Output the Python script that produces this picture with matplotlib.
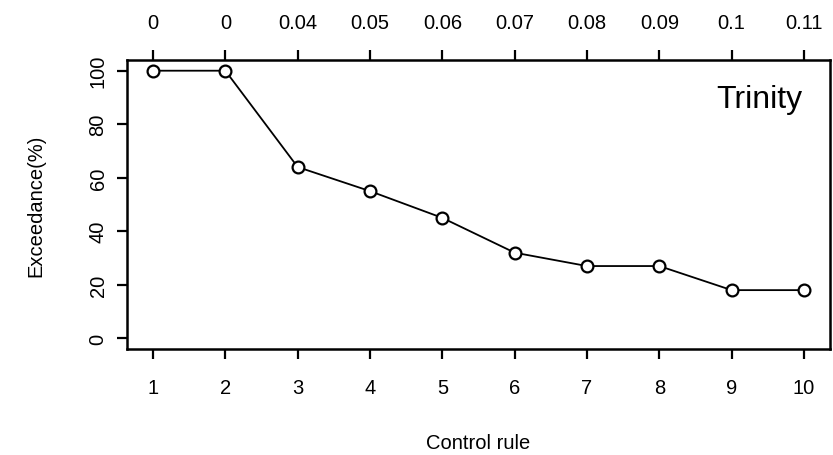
import matplotlib.pyplot as plt

plt.rcParams["font.family"] = ["Liberation Sans", "DejaVu Sans"]

control_rule = [1, 2, 3, 4, 5, 6, 7, 8, 9, 10]
exceedance = [100, 100, 64, 55, 45, 32, 27, 27, 18, 18]
top_labels = ["0", "0", "0.04", "0.05", "0.06", "0.07", "0.08", "0.09", "0.1", "0.11"]
y_ticks = [0, 20, 40, 60, 80, 100]

fig = plt.figure(figsize=(8.33, 4.56), dpi=100)
ax = fig.add_axes([127 / 833, 1 - 350 / 456, (830 - 127) / 833, (350 - 61) / 456])

ax.plot(control_rule, exceedance, color="black", linewidth=1.3, marker="o",
        markersize=8.5, markerfacecolor="white", markeredgecolor="black",
        markeredgewidth=1.6, zorder=3)

ax.set_xlim(0.64, 10.36)
ax.set_ylim(-4, 104)
ax.set_xticks(control_rule)
ax.set_yticks(y_ticks)
ax.set_yticklabels([str(v) for v in y_ticks], rotation=90, va="center")
ax.tick_params(axis="both", direction="out", length=7, width=1.6, labelsize=14.5)
ax.tick_params(axis="x", pad=14)
ax.tick_params(axis="y", pad=7)

top = ax.secondary_xaxis("top")
top.set_xticks(control_rule)
top.set_xticklabels(top_labels)
top.tick_params(direction="out", length=7, width=1.6, labelsize=14.5, pad=13)
top.spines["top"].set_visible(False)

for s in ax.spines.values():
    s.set_linewidth(1.8)

ax.set_xlabel("Control rule", fontsize=14.5, labelpad=26)
ax.set_ylabel("Exceedance(%)", fontsize=14.5, labelpad=31)
ax.text(0.96, 0.865, "Trinity", transform=ax.transAxes, ha="right", va="center", fontsize=23)

fig.savefig("out.png", dpi=100)
